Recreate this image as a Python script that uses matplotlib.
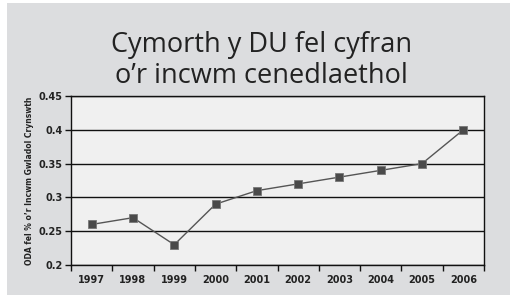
import matplotlib
matplotlib.use("Agg")
from matplotlib import pyplot as plt
from matplotlib.patches import Rectangle
from matplotlib.ticker import FixedLocator, NullFormatter

years = ["1997", "1998", "1999", "2000", "2001", "2002", "2003", "2004", "2005", "2006"]
oda = [0.26, 0.27, 0.23, 0.29, 0.31, 0.32, 0.33, 0.34, 0.35, 0.40]
yticks = [0.2, 0.25, 0.3, 0.35, 0.4, 0.45]
ytick_labels = ["0.2", "0.25", "0.3", "0.35", "0.4", "0.45"]

fig = plt.figure(figsize=(5.13, 3.02), dpi=100)
fig.patch.set_facecolor("white")

# grey panel behind everything
fig.patches.append(Rectangle((7 / 513, 7 / 302), 503 / 513, 292 / 302,
                             transform=fig.transFigure, facecolor="#dcdddf",
                             edgecolor="none", zorder=-10))

fig.text(0.509, 0.80, "Cymorth y DU fel cyfran\no\u2019r incwm cenedlaethol",
         ha="center", va="center", fontsize=19.5, family="Open Sans",
         color="#222222", linespacing=1.12)

ax = fig.add_axes([71 / 513, 37 / 302, 413 / 513, 169 / 302])
ax.set_zorder(2)
ax.set_facecolor("#f0f0f0")

x = list(range(len(years)))
ax.plot(x, oda, color="#555555", linewidth=1.0, marker="s", markersize=6,
        markerfacecolor="#4a4a4a", markeredgecolor="#777777", markeredgewidth=0.6,
        zorder=3)

ax.set_xlim(-0.5, len(years) - 0.5)
ax.set_ylim(0.2, 0.45)
ax.set_yticks(yticks)
ax.set_yticklabels(ytick_labels)
ax.yaxis.grid(True, color="#111111", linewidth=1.0)
ax.set_axisbelow(True)

# ticks between categories, labels in the middle
ax.xaxis.set_major_locator(FixedLocator([i - 0.5 for i in range(len(years) + 1)]))
ax.xaxis.set_major_formatter(NullFormatter())
ax.xaxis.set_minor_locator(FixedLocator(x))
ax.set_xticklabels(years, minor=True)
ax.tick_params(axis="x", which="major", direction="out", length=4, width=1, color="#111111")
ax.tick_params(axis="x", which="minor", length=0, pad=7)
ax.tick_params(axis="y", direction="out", length=4, width=1, color="#111111", pad=2)

for lab in ax.get_xticklabels(minor=True) + ax.get_yticklabels():
    lab.set_fontsize(7)
    lab.set_fontweight("bold")
    lab.set_family("Liberation Sans Narrow")
    lab.set_color("#222222")

for side in ["left", "bottom", "right", "top"]:
    ax.spines[side].set_color("#111111")
    ax.spines[side].set_linewidth(1.0)

ax.set_ylabel("ODA fel % o\u2019r Incwm Gwladol Crynswth", fontsize=5.5,
              fontweight="bold", family="Liberation Sans Narrow", color="#222222",
              labelpad=3)

plt.savefig("out.png", dpi=100)
